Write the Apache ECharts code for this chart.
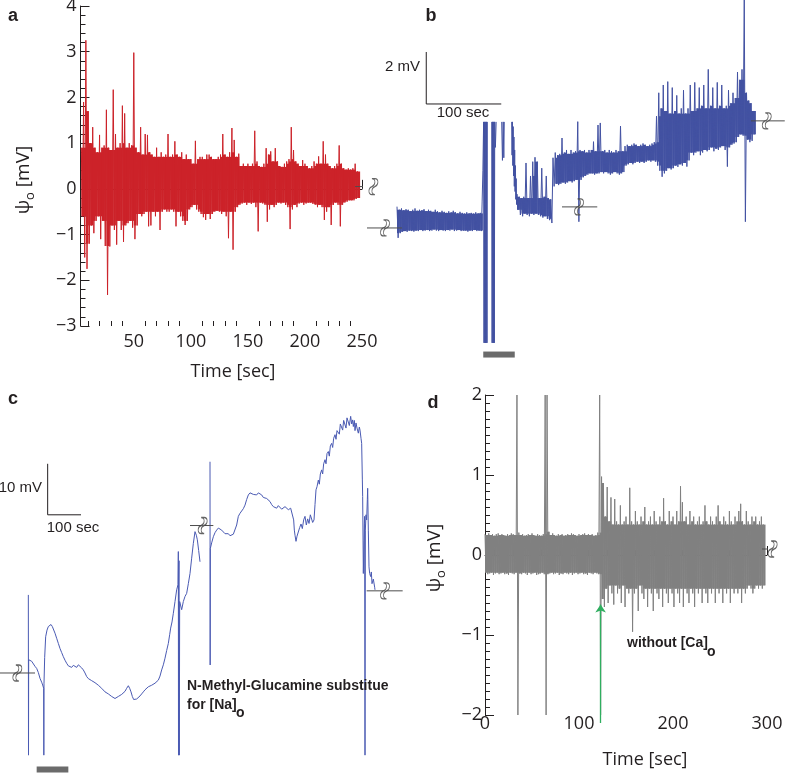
<!DOCTYPE html>
<html><head><meta charset="utf-8">
<script src="https://cdn.jsdelivr.net/npm/echarts@6/dist/echarts.min.js"></script>
<style>html,body{margin:0;padding:0;background:#fff}#c{width:787px;height:773px}</style>
</head><body><div id="c"></div><script>
// ---------- Panel a (red trace, envelope per 2-s bin) ----------
const aStart = 4, aStep = 2;
const aHi = [0.9,1.9,3.25,1.7,1.0,1.35,0.9,0.8,1.18,0.9,0.95,1.73,0.9,0.85,2.17,1.2,0.9,1.0,1.82,1.65,0.9,1.0,0.95,2.98,0.9,
  0.8,1.35,0.75,1.2,1.18,0.8,0.75,0.7,0.9,0.7,0.8,0.7,0.75,1.2,0.7,0.75,1.04,0.75,0.7,0.8,0.65,0.75,0.65,0.65,0.55,1.05,0.65,0.7,0.7,0.65,0.75,0.75,0.7,0.65,0.65,0.7,0.75,1.2,0.75,0.7,0.8,1.33,1.07,
  0.7,0.77,0.5,0.55,0.5,0.55,0.5,0.55,1.27,0.6,0.5,0.48,0.55,0.89,0.75,0.82,0.6,0.89,0.6,0.5,0.48,0.55,0.6,0.65,1.35,0.85,0.6,0.55,0.5,0.63,0.55,0.5,0.45,0.5,0.6,0.55,0.71,0.55,1.04,0.75,0.55,0.5,0.45,0.5,0.55,0.95,0.55,0.45,0.42,0.45,0.42,0.45,0.55,0.38];
const aLo = [-0.6,-1.5,-1.75,-1.2,-0.8,-0.97,-0.7,-0.6,-1.1,-0.7,-1.25,-2.32,-1.26,-0.8,-0.9,-1.22,-0.7,-0.9,-1.16,-0.8,-0.75,-0.7,-0.85,-1.1,-0.8,
  -0.55,-0.6,-0.55,-0.5,-0.82,-0.8,-0.5,-0.6,-0.5,-0.9,-0.5,-0.45,-0.5,-0.5,-0.45,-0.5,-0.82,-0.5,-0.6,-0.7,-0.79,-0.7,-0.45,-0.4,-0.35,-0.45,-0.5,-0.55,-0.62,-0.68,-0.55,-0.66,-0.55,-0.5,-0.48,-0.5,-0.55,-0.5,-0.6,-1.08,-0.5,-1.33,-0.5,
  -0.4,-0.35,-0.32,-0.3,-0.35,-0.3,-0.33,-0.3,-0.4,-0.93,-0.3,-0.32,-0.35,-0.72,-0.45,-0.35,-0.4,-0.35,-0.3,-0.32,-0.3,-0.35,-0.4,-0.88,-0.45,-0.35,-0.4,-0.32,-0.3,-0.35,-0.32,-0.3,-0.3,-0.33,-0.35,-0.4,-0.35,-0.4,-0.68,-0.5,-0.4,-0.79,-0.35,-0.3,-0.35,-0.82,-0.35,-0.3,-0.28,-0.25,-0.25,-0.25,-0.22,-0.2];
const aXLabels = [50,100,150,200,250];
const aXMinor = [10,20,30,40,60,70,80,90,110,120,130,140,160,170,180,190,210,220,230,240];

// ---------- Panel b (blue trace, mV, s) ----------
const b1Start = 0, bStep = 3;
const bHi1 = [0.82,0.7,0.75,0.68,0.72,0.7,0.65,0.7,0.75,0.66,0.7,0.68,0.72,0.65,0.7,0.66,0.62,0.7,0.64,0.6,0.66,0.62,0.58,0.64,0.6,0.66,0.6,0.56,0.62,0.58,0.55,0.6,0.56,0.58,0.55,0.6,0.56,0.58];
const bLo1 = [-0.38,-0.2,-0.15,-0.12,-0.15,-0.1,-0.12,-0.14,-0.1,-0.12,-0.08,-0.12,-0.1,-0.08,-0.12,-0.1,-0.06,-0.1,-0.12,-0.08,-0.1,-0.12,-0.08,-0.1,-0.06,-0.12,-0.1,-0.08,-0.12,-0.1,-0.1,-0.14,-0.1,-0.12,-0.08,-0.12,-0.1,-0.12];
const bBurst = [[113.5,1.0],[114.5,2.2],[115.5,4.08],[116,-4.42],[116.5,4.08],[117,-4.42],[117.5,4.08],[118,-4.42],[118.5,4.08],[119,-4.42],[119.5,4.08],[120,-4.42],[120.4,4.08],[121,'-'],
  [126.3,4.08],[126.8,-4.42],[127.3,4.08],[127.8,-4.42],[128.3,4.08],[128.8,-4.42],[129.3,4.08],[129.8,-4.42],[130.3,4.08],[131.2,3.1],[132.2,4.08],[133,'-'],
  [139.6,4.08],[140.6,2.6],[141.6,4.08],[142.4,2.7],[143,4.08],[144,'-'],
  [152.9,4.08],[153.4,2.8],[153.9,4.08],[154.4,2.4],[154.9,3.9],[155.4,2.0],[155.9,3.5],[156.4,1.6],[156.9,3.0],[157.4,1.4],[157.9,2.4],[158.4,1.1],[158.9,1.9],[159.4,0.9]];
const b2Start = 160;
const bHi2 = [1.3,1.2,1.15,1.2,2.5,1.15,2.0,2.55,2.72,2.55,1.15,2.3,1.2,2.0,1.15,1.1,2.7,2.9,2.8,2.85,
  3.46,2.9,3.0,2.85,3.0,2.9,2.95,4.09,3.0,2.95,3.0,2.9,3.0,3.0,3.32,2.95,3.96,4.04,2.95,3.0,
  2.9,3.0,2.95,2.9,3.0,2.95,3.92,2.95,3.15,3.2,3.15,3.2,3.25,3.2,3.15,3.2,3.25,3.2,3.15,3.2,
  3.25,3.3,4.3,5.2,4.6,5.5,4.5,5.63,4.4,5.4,4.5,5.1,4.4,4.6,5.3,4.4,4.6,5.5,4.5,5.6,
  4.6,5.4,4.7,5.5,4.6,6.1,4.7,5.4,4.6,5.6,4.7,5.5,4.6,4.7,5.3,4.8,5.2,5.0,6.0,5.7,6.1,8.77,5.2,4.9,4.8,4.5];
const bLo2 = [0.7,0.5,0.45,0.55,0.5,0.45,0.55,0.5,0.55,0.5,0.45,0.4,0.45,0.35,0.3,0.19,1.6,1.7,1.65,1.7,
  1.75,1.7,1.75,1.8,1.75,1.8,1.85,0.24,1.85,1.95,2.0,2.05,2.1,2.1,2.05,2.1,2.1,2.15,2.1,2.15,
  2.1,2.05,2.1,2.15,2.1,2.05,2.1,2.15,2.4,2.45,2.5,2.45,2.5,2.55,2.5,2.55,2.5,2.55,2.6,2.55,
  2.6,2.55,2.4,2.2,1.97,2.1,2.2,2.3,2.25,2.3,2.4,2.35,2.45,2.4,2.5,2.36,2.6,2.9,2.8,2.9,
  2.95,2.8,2.9,3.0,2.95,3.0,3.1,2.95,3.05,3.0,3.1,3.15,3.0,2.36,3.1,3.2,3.25,3.3,3.5,3.6,3.55,0.24,3.4,3.3,3.35,3.6];
const bScaleBar = [[39,6.77],[39,4.77],[139,4.77]];
const bBreaks = [[-40,6.7,-16,0],[220,267,242.7,0.81],[472,517,493,4.12]];
const bBar = [[115,-4.87],[157,-4.87]];

// ---------- Panel c (blue single trace, mV, s) ----------
const cTrace = [[0,15.3],[0.5,-16.1],[1,2.6],[5,2.55],[10,2.3],[15,2.0],[20,1.3],[25,0.9],[30,0.1],[35,-1.05],[40,-1.8],[43,-2.35],[46,-3.0],[46.5,-16.1],[47,-2.0],[49,3.0],[52,7.1],[56,8.4],[60,9.1],[64,9.4],[68,9.5],[72,9.1],[75,8.8],[80,7.8],[85,6.8],[90,5.8],[95,4.8],[100,4.0],[105,3.2],[110,2.5],[115,1.9],[120,1.4],[125,1.4],[130,1.1],[135,1.5],[140,1.2],[145,1.1],[150,1.6],[155,1.4],[160,1.0],[165,0.6],[170,0.0],[175,-0.7],[180,-1.1],[185,-1.4],[190,-1.5],[195,-1.8],[200,-1.9],[205,-2.2],[210,-2.4],[215,-2.7],[220,-3.0],[225,-3.3],[230,-3.7],[235,-3.9],[240,-4.1],[245,-4.3],[250,-4.6],[255,-4.8],[260,-5.0],[265,-4.9],[270,-4.6],[275,-4.4],[280,-4.2],[285,-4.0],[290,-3.6],[295,-3.0],[300,-2.5],[304,-3.0],[308,-3.7],[312,-4.6],[316,-5.2],[320,-5.3],[325,-5.1],[330,-5.0],[335,-4.5],[340,-4.1],[345,-3.7],[350,-3.3],[355,-3.0],[360,-2.7],[365,-2.5],[370,-2.4],[375,-2.2],[380,-2.0],[385,-1.7],[390,-1.4],[395,-0.6],[400,0.6],[405,1.6],[410,2.9],[415,4.4],[420,5.8],[424,7.5],[427,8.8],[431,10.0],[435,11.7],[440,14.0],[445,16.3],[449,17.3],[450,23.8],[450.5,-16.1],[451,16.0],[452,22.0],[453,-16.1],[454,14.0],[460,12.4],[465,14.0],[470,15.0],[475,15.6],[480,17.5],[485,19.5],[490,22.5],[495,25.4],[500,27.7],[504,27.0],[507,26.1],[511,24.0],[515,21.8],[530,'-'],
  [545,41.4],[545.5,1.57],[546,24.4],[550,25.5],[555,26.7],[560,27.5],[565,28.0],[570,28.4],[575,28.4],[580,28.0],[585,27.7],[590,27.3],[595,27.1],[600,27.3],[605,26.9],[610,26.9],[615,27.2],[620,27.4],[625,29.0],[630,30.7],[635,31.3],[640,31.6],[645,32.2],[650,32.9],[655,34.0],[660,34.9],[665,35.3],[670,35.2],[675,35.0],[680,35.3],[685,34.9],[690,35.3],[695,35.6],[700,34.9],[705,34.4],[710,34.6],[715,34.2],[720,34.0],[725,33.6],[730,33.0],[735,32.6],[740,32.5],[745,32.3],[750,32.8],[755,32.6],[760,32.1],[765,32.1],[770,32.6],[775,32.3],[780,32.0],[787,32.3],[793,32.6],[796,30.0],[798,28.0],[800,27.0],[803,25.8],[806,26.8],[810,27.1],[814,28.5],[818,29.2],[822,28.3],[826,30.0],[830,30.7],[834,29.0],[838,30.2],[842,29.3],[846,31.0],[850,31.3],[853,29.5],[857,30.0],[860,33.0],[863,35.9],[866,36.5],[870,37.8],[873,37.0],[876,39.0],[880,39.8],[883,39.0],[886,41.0],[890,41.8],[893,41.0],[896,43.0],[900,43.4],[903,42.5],[906,44.5],[910,45.0],[913,44.2],[916,46.0],[920,46.7],[923,45.8],[926,47.5],[930,47.6],[933,46.8],[936,48.8],[940,48.6],[943,47.6],[946,49.5],[950,49.3],[953,48.0],[956,50.0],[960,49.9],[963,48.5],[967,50.3],[970,48.8],[973,49.6],[975,48.3],[978,49.5],[980,47.5],[983,49.0],[986,48.0],[990,47.0],[993,48.2],[995,47.6],[998,46.0],[1000,45.0],[1002,38.0],[1003,34.6],[1005,19.5],[1007,26.0],[1008,29.3],[1009,30.7],[1010,-16.1],[1011,28.0],[1013,31.0],[1015,30.0],[1017,34.0],[1018,36.2],[1020,28.0],[1022,20.8],[1024,19.5],[1027,18.9],[1029,19.8],[1031,17.5],[1033,17.3],[1035,18.4],[1037,18.2],[1039,16.8],[1040,16.3]];
const cScaleBar = [[58,41],[58,31],[158,31]];
const cBreaks = [[-85,20,-33,0],[485,555,523,28.9],[1015,1123,1070,16.1]];
const cBar = [[25,-18.9],[120,-18.9]];

// ---------- Panel d (gray trace, 2-s bins) ----------
const dStart = 0, dStep = 2;
const dHi = [0.26,0.25,0.27,0.25,0.26,0.24,0.26,0.27,0.25,0.26,0.25,0.24,0.26,0.25,0.27,0.26,0.25,
  2.0,
  0.28,0.25,0.26,0.24,0.25,0.26,0.25,0.27,0.25,0.24,0.26,0.25,0.24,0.26,
  2.0,2.0,
  0.29,0.25,0.27,0.25,0.24,0.26,0.25,0.26,0.24,0.25,0.26,0.25,0.27,0.26,0.25,0.24,0.26,0.25,0.26,0.27,0.25,0.26,0.25,0.26,0.24,0.25,0.28,
  2.0,
  0.98,0.9,0.48,0.85,0.42,0.72,0.38,0.7,0.42,0.38,0.62,0.38,0.42,0.48,0.38,0.84,0.42,0.38,0.55,0.42,
  0.38,0.48,0.42,0.6,0.38,0.42,0.48,0.38,0.55,0.42,0.38,0.48,0.42,0.71,0.42,0.38,0.55,0.42,0.48,0.38,
  0.55,0.42,0.86,0.66,0.42,0.48,0.38,0.55,0.42,0.48,0.38,0.42,0.48,0.38,0.42,0.62,0.42,0.38,0.48,0.42,
  0.38,0.48,0.62,0.42,0.38,0.48,0.42,0.38,0.55,0.42,0.38,0.48,0.42,0.55,0.64,0.42,0.38,0.55,0.42,0.38,
  0.48,0.42,0.48,0.38,0.42,0.48,0.38];
const dLo = [-0.22,-0.24,-0.23,-0.22,-0.25,-0.23,-0.22,-0.24,-0.23,-0.22,-0.24,-0.23,-0.25,-0.22,-0.23,-0.24,-0.22,
  -2.0,
  -0.23,-0.24,-0.22,-0.23,-0.25,-0.22,-0.24,-0.23,-0.22,-0.25,-0.24,-0.23,-0.22,-0.24,
  -2.0,-0.24,
  -0.23,-0.22,-0.24,-0.23,-0.22,-0.25,-0.23,-0.24,-0.22,-0.23,-0.24,-0.22,-0.25,-0.23,-0.22,-0.24,-0.23,-0.22,-0.24,-0.23,-0.25,-0.22,-0.23,-0.24,-0.22,-0.23,-0.24,
  -2.0,
  -0.55,-0.65,-0.42,-0.6,-0.38,-0.48,-0.62,-0.38,-0.48,-0.42,-0.6,-0.38,-0.65,-0.42,-0.48,-0.42,-0.96,-0.48,-0.42,-0.7,
  -0.38,-0.48,-0.55,-0.42,-0.65,-0.42,-0.48,-0.7,-0.42,-0.48,-0.55,-0.42,-0.65,-0.42,-0.48,-0.6,-0.42,-0.48,-0.65,-0.42,
  -0.48,-0.6,-0.42,-0.65,-0.42,-0.48,-0.6,-0.42,-0.48,-0.65,-0.42,-0.48,-0.42,-0.6,-0.42,-0.48,-0.6,-0.42,-0.48,-0.42,
  -0.6,-0.42,-0.48,-0.42,-0.6,-0.42,-0.48,-0.42,-0.6,-0.42,-0.48,-0.42,-0.48,-0.42,-0.6,-0.42,-0.48,-0.42,-0.38,-0.42,
  -0.48,-0.42,-0.38,-0.42,-0.38,-0.42,-0.38];
const dArrow = [[123,-2.1],[123,-0.62]];
const dBreak = [294.7,321,306,0.075];
const aBreak = [244,275,260,0.05];

// ---------- build ----------
function envelope(start, step, hi, lo) {
  const out = [];
  for (let i = 0; i < hi.length; i++) {
    out.push([start + i * step, hi[i]]);
    out.push([start + i * step + step / 2, lo[i]]);
  }
  return out;
}
// dense core of the trace: the band that every neighbouring sample crosses
function core(start, step, hi, lo) {
  const out = [];
  for (let i = 0; i < hi.length; i++) {
    const j0 = Math.max(0, i - 1), j1 = Math.min(hi.length - 1, i + 1);
    let top = Infinity, low = -Infinity;
    for (let j = j0; j <= j1; j++) { top = Math.min(top, hi[j]); low = Math.max(low, lo[j]); }
    if (top > low) out.push([start + i * step, low, top]);
  }
  return out;
}
const aData = envelope(aStart, aStep, aHi, aLo);
const bData = envelope(b1Start, bStep, bHi1, bLo1).concat(bBurst, envelope(b2Start, bStep, bHi2, bLo2));
const dData = envelope(dStart, dStep, dHi, dLo);

const INK = '#231f20';
const SQUIG = 'path://M3,0 C7,0 7,5 3,6 C-1,7 -1,12 3,12 L6,12 C2,12 2,7 6,6 C10,5 10,0 6,0 Z';
const minus = v => (v < 0 ? '\u2212' + (-v) : String(v));

function line(xi, yi, data, color, width, extra) {
  return Object.assign({type: 'line', xAxisIndex: xi, yAxisIndex: yi, data, symbol: 'none', showSymbol: false,
    silent: true, animation: false, lineStyle: {color, width}, itemStyle: {color}}, extra || {});
}
function coreBand(xi, yi, data, step, color) {
  return {type: 'custom', xAxisIndex: xi, yAxisIndex: yi, data, silent: true, animation: false, clip: true, z: 1,
    encode: {x: 0, y: [1, 2]},
    renderItem: function (params, api) {
      const t = api.value(0);
      const p0 = api.coord([t, api.value(2)]);
      const p1 = api.coord([t + step, api.value(1)]);
      return {type: 'rect', shape: {x: p0[0], y: p0[1], width: p1[0] - p0[0] + 0.4, height: p1[1] - p0[1]},
        style: {fill: color, stroke: null}};
    }};
}
function breakMarks(xi, yi, list) {
  const s = [];
  list.forEach(b => {
    s.push(line(xi, yi, [[b[0], b[3]], [b[1], b[3]]], '#4d4d4d', 1, {clip: false, z: 5}));
    s.push({type: 'scatter', xAxisIndex: xi, yAxisIndex: yi, data: [[b[2], b[3]]], symbol: SQUIG, symbolSize: [9, 16],
      clip: false, silent: true, animation: false, z: 6, itemStyle: {color: '#fff', borderColor: '#3d3d3d', borderWidth: 1}});
  });
  return s;
}
const axLine = {show: true, lineStyle: {color: INK, width: 1}};
const lab = {color: INK, fontSize: 18, fontFamily: 'Open Sans'};
const RED = '#cc2229', BLUE = '#4352a2', GRAY = '#808080';

const option = {
  backgroundColor: '#fff',
  animation: false,
  grid: [
    {left: 80.5, top: 6, width: 281.5, height: 320, outerBoundsMode: 'none'},
    {left: 359.5, top: 0, width: 427.5, height: 360, outerBoundsMode: 'none'},
    {left: 0, top: 400, width: 403, height: 373, outerBoundsMode: 'none'},
    {left: 485, top: 395, width: 282, height: 320, outerBoundsMode: 'none'}
  ],
  xAxis: [
    {gridIndex: 0, type: 'value', position: 'bottom', min: 3.3, max: 250, axisLine: axLine, splitLine: {show: false},
      axisTick: {show: true, inside: true, length: 9, customValues: aXLabels, lineStyle: {color: INK}},
      axisLabel: Object.assign({customValues: aXLabels, margin: 7}, lab)},
    {gridIndex: 0, type: 'value', position: 'bottom', offset: 0, min: 3.3, max: 250, axisLine: {show: false}, splitLine: {show: false},
      axisTick: {show: true, inside: true, length: 5, customValues: aXMinor, lineStyle: {color: INK}},
      axisLabel: {show: false}},
    {gridIndex: 1, type: 'value', min: -50, max: 520, show: false},
    {gridIndex: 2, type: 'value', min: -85, max: 1124, show: false},
    {gridIndex: 3, type: 'value', min: 0, max: 300, interval: 100, axisLine: axLine, splitLine: {show: false},
      axisTick: {show: true, inside: true, length: 9, lineStyle: {color: INK}},
      minorTick: {show: true, splitNumber: 10, length: 5, lineStyle: {color: INK}},
      axisLabel: Object.assign({margin: 0}, lab)}
  ],
  yAxis: [
    {gridIndex: 0, type: 'value', min: -3, max: 4, interval: 1, axisLine: axLine, splitLine: {show: false},
      axisTick: {show: true, inside: true, length: 9, lineStyle: {color: INK}},
      minorTick: {show: true, splitNumber: 5, length: 5, lineStyle: {color: INK}},
      axisLabel: Object.assign({margin: 4, formatter: minus}, lab)},
    {gridIndex: 1, type: 'value', min: -5.08, max: 8.77, show: false},
    {gridIndex: 2, type: 'value', min: -19.6, max: 53.5, show: false},
    {gridIndex: 3, type: 'value', min: -2, max: 2, interval: 1, axisLine: axLine, splitLine: {show: false},
      axisTick: {show: true, inside: true, length: 9, lineStyle: {color: INK}},
      minorTick: {show: true, splitNumber: 10, length: 5, lineStyle: {color: INK}},
      axisLabel: Object.assign({margin: 3, formatter: minus}, lab)}
  ],
  series: [
    coreBand(0, 0, core(aStart, aStep, aHi, aLo), aStep, RED),
    line(0, 0, aData, RED, 1),
    coreBand(2, 1, core(b1Start, bStep, bHi1, bLo1), bStep, BLUE),
    coreBand(2, 1, core(b2Start, bStep, bHi2, bLo2), bStep, BLUE),
    line(2, 1, bData, BLUE, 1),
    line(2, 1, bScaleBar, INK, 1, {clip: false}),
    line(2, 1, bBar, '#6b6b6b', 6, {clip: false}),
    line(3, 2, cTrace, '#4a5ab3', 1),
    line(3, 2, cScaleBar, INK, 1, {clip: false}),
    line(3, 2, cBar, '#6b6b6b', 6, {clip: false}),
    coreBand(4, 3, core(dStart, dStep, dHi, dLo), dStep, GRAY),
    line(4, 3, dData, GRAY, 1),
    {type: 'lines', coordinateSystem: 'cartesian2d', xAxisIndex: 4, yAxisIndex: 3, clip: false, silent: true, animation: false, z: 8,
      symbol: ['none', 'arrow'], symbolSize: 8, lineStyle: {color: '#2fae5f', width: 1.3, opacity: 1},
      data: [{coords: dArrow}]}
  ].concat(
    breakMarks(0, 0, [aBreak]),
    breakMarks(2, 1, bBreaks),
    breakMarks(3, 2, cBreaks),
    breakMarks(4, 3, [dBreak])
  ),
  graphic: (function () {
    const T = (x, y, text, st) => ({type: 'text', x, y, z: 100, silent: true,
      style: Object.assign({text, fill: INK, fontSize: 18, fontFamily: 'Open Sans', align: 'center', verticalAlign: 'middle'}, st || {})});
    const bold = {fontFamily: 'Liberation Sans', fontWeight: 'bold', fontSize: 18};
    const small = {fontFamily: 'Liberation Sans', fontSize: 15};
    const ann = {fontFamily: 'Liberation Sans', fontWeight: 'bold', fontSize: 14, align: 'left'};
    const psi = (x, y) => ({type: 'text', x, y, rotation: Math.PI / 2, z: 100, silent: true,
      style: {text: '{p|\u03c8}{s|o}{p| [mV]}', fill: INK, align: 'center', verticalAlign: 'middle',
        rich: {p: {fontSize: 19, fontFamily: 'Open Sans', fill: INK}, s: {fontSize: 13, fontFamily: 'Open Sans', fill: INK, padding: [12, 0, 0, 0]}}}});
    return [
      T(13, 16, 'a', bold), T(431, 16, 'b', bold), T(13, 399, 'c', bold), T(433, 403, 'd', bold),
      T(233, 372, 'Time [sec]'), psi(24, 180),
      T(645, 760, 'Time [sec]'), psi(435, 558),
      T(420, 67, '2 mV', Object.assign({align: 'right'}, small)),
      T(463, 113, '100 sec', small),
      T(42, 488, '10 mV', Object.assign({align: 'right'}, small)),
      T(73, 528, '100 sec', small),
      T(187, 686, 'N-Methyl-Glucamine substitue', ann),
      T(187, 705, 'for [Na]', ann),
      T(236, 713, 'o', ann),
      T(627, 643, 'without [Ca]', ann),
      T(707, 652, 'o', ann)
    ];
  })()
};
const chart = echarts.init(document.getElementById('c'), null, {renderer: 'canvas'});
chart.setOption(option);
</script></body></html>
